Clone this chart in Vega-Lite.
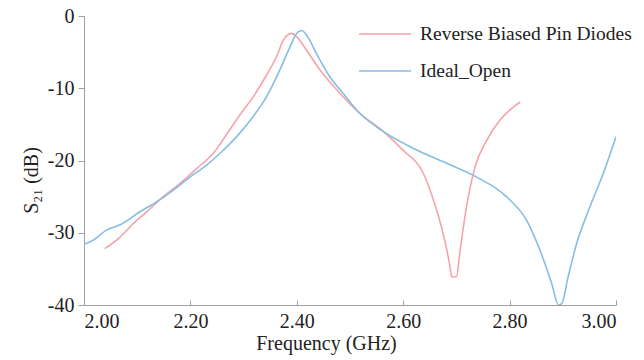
{
  "$schema": "https://vega.github.io/schema/vega-lite/v6.json",
  "width": 532,
  "height": 289,
  "autosize": {"type": "none"},
  "padding": {"left": 84, "top": 16, "right": 28, "bottom": 55},
  "background": "white",
  "config": {
    "view": {"stroke": null},
    "font": "Liberation Serif",
    "axis": {
      "grid": false,
      "domainColor": "#a0a0a0",
      "tickColor": "#a0a0a0",
      "labelFont": "Liberation Serif",
      "titleFont": "Liberation Serif",
      "labelColor": "#222222",
      "titleColor": "#222222",
      "labelFontSize": 20,
      "titleFontSize": 20,
      "titleFontWeight": "normal"
    },
    "legend": {
      "labelFont": "Liberation Serif",
      "labelFontSize": 19.5,
      "labelColor": "#222222",
      "labelLimit": 400
    }
  },
  "data": {
    "values": [
      {"series": "Reverse Biased Pin Diodes", "f": 2.039, "s21": -32.2},
      {"series": "Reverse Biased Pin Diodes", "f": 2.068, "s21": -30.6},
      {"series": "Reverse Biased Pin Diodes", "f": 2.093, "s21": -28.7},
      {"series": "Reverse Biased Pin Diodes", "f": 2.118, "s21": -27.1},
      {"series": "Reverse Biased Pin Diodes", "f": 2.149, "s21": -25.0},
      {"series": "Reverse Biased Pin Diodes", "f": 2.180, "s21": -23.2},
      {"series": "Reverse Biased Pin Diodes", "f": 2.212, "s21": -21.1},
      {"series": "Reverse Biased Pin Diodes", "f": 2.243, "s21": -19.0},
      {"series": "Reverse Biased Pin Diodes", "f": 2.268, "s21": -16.4},
      {"series": "Reverse Biased Pin Diodes", "f": 2.293, "s21": -13.7},
      {"series": "Reverse Biased Pin Diodes", "f": 2.318, "s21": -11.2},
      {"series": "Reverse Biased Pin Diodes", "f": 2.343, "s21": -8.2},
      {"series": "Reverse Biased Pin Diodes", "f": 2.362, "s21": -5.6},
      {"series": "Reverse Biased Pin Diodes", "f": 2.375, "s21": -3.3},
      {"series": "Reverse Biased Pin Diodes", "f": 2.390, "s21": -2.4},
      {"series": "Reverse Biased Pin Diodes", "f": 2.400, "s21": -2.9},
      {"series": "Reverse Biased Pin Diodes", "f": 2.418, "s21": -4.7},
      {"series": "Reverse Biased Pin Diodes", "f": 2.444, "s21": -7.5},
      {"series": "Reverse Biased Pin Diodes", "f": 2.475, "s21": -10.2},
      {"series": "Reverse Biased Pin Diodes", "f": 2.519, "s21": -13.5},
      {"series": "Reverse Biased Pin Diodes", "f": 2.563, "s21": -16.0},
      {"series": "Reverse Biased Pin Diodes", "f": 2.600, "s21": -18.6},
      {"series": "Reverse Biased Pin Diodes", "f": 2.638, "s21": -21.8},
      {"series": "Reverse Biased Pin Diodes", "f": 2.657, "s21": -25.5},
      {"series": "Reverse Biased Pin Diodes", "f": 2.675, "s21": -30.1},
      {"series": "Reverse Biased Pin Diodes", "f": 2.688, "s21": -34.7},
      {"series": "Reverse Biased Pin Diodes", "f": 2.691, "s21": -36.1},
      {"series": "Reverse Biased Pin Diodes", "f": 2.700, "s21": -36.1},
      {"series": "Reverse Biased Pin Diodes", "f": 2.707, "s21": -32.4},
      {"series": "Reverse Biased Pin Diodes", "f": 2.719, "s21": -26.4},
      {"series": "Reverse Biased Pin Diodes", "f": 2.735, "s21": -20.9},
      {"series": "Reverse Biased Pin Diodes", "f": 2.757, "s21": -17.2},
      {"series": "Reverse Biased Pin Diodes", "f": 2.782, "s21": -14.4},
      {"series": "Reverse Biased Pin Diodes", "f": 2.807, "s21": -12.6},
      {"series": "Reverse Biased Pin Diodes", "f": 2.820, "s21": -11.9},
      {"series": "Ideal_Open", "f": 2.000, "s21": -31.6},
      {"series": "Ideal_Open", "f": 2.018, "s21": -31.0},
      {"series": "Ideal_Open", "f": 2.043, "s21": -29.6},
      {"series": "Ideal_Open", "f": 2.068, "s21": -28.9},
      {"series": "Ideal_Open", "f": 2.105, "s21": -27.1},
      {"series": "Ideal_Open", "f": 2.137, "s21": -25.7},
      {"series": "Ideal_Open", "f": 2.168, "s21": -24.1},
      {"series": "Ideal_Open", "f": 2.199, "s21": -22.3},
      {"series": "Ideal_Open", "f": 2.231, "s21": -20.6},
      {"series": "Ideal_Open", "f": 2.256, "s21": -19.0},
      {"series": "Ideal_Open", "f": 2.287, "s21": -16.7},
      {"series": "Ideal_Open", "f": 2.318, "s21": -13.9},
      {"series": "Ideal_Open", "f": 2.343, "s21": -11.2},
      {"series": "Ideal_Open", "f": 2.368, "s21": -7.5},
      {"series": "Ideal_Open", "f": 2.387, "s21": -4.3},
      {"series": "Ideal_Open", "f": 2.400, "s21": -2.4},
      {"series": "Ideal_Open", "f": 2.409, "s21": -2.0},
      {"series": "Ideal_Open", "f": 2.418, "s21": -2.6},
      {"series": "Ideal_Open", "f": 2.437, "s21": -5.2},
      {"series": "Ideal_Open", "f": 2.462, "s21": -8.4},
      {"series": "Ideal_Open", "f": 2.487, "s21": -10.7},
      {"series": "Ideal_Open", "f": 2.519, "s21": -13.5},
      {"series": "Ideal_Open", "f": 2.563, "s21": -16.0},
      {"series": "Ideal_Open", "f": 2.613, "s21": -18.1},
      {"series": "Ideal_Open", "f": 2.688, "s21": -20.6},
      {"series": "Ideal_Open", "f": 2.738, "s21": -22.3},
      {"series": "Ideal_Open", "f": 2.794, "s21": -25.0},
      {"series": "Ideal_Open", "f": 2.832, "s21": -28.3},
      {"series": "Ideal_Open", "f": 2.857, "s21": -32.4},
      {"series": "Ideal_Open", "f": 2.879, "s21": -37.0},
      {"series": "Ideal_Open", "f": 2.892, "s21": -40.0},
      {"series": "Ideal_Open", "f": 2.898, "s21": -39.8},
      {"series": "Ideal_Open", "f": 2.910, "s21": -36.1},
      {"series": "Ideal_Open", "f": 2.926, "s21": -31.5},
      {"series": "Ideal_Open", "f": 2.951, "s21": -26.4},
      {"series": "Ideal_Open", "f": 2.976, "s21": -21.8},
      {"series": "Ideal_Open", "f": 3.000, "s21": -16.7}
    ]
  },
  "mark": {"type": "line", "strokeWidth": 1.6, "interpolate": "monotone", "clip": true},
  "encoding": {
    "x": {
      "field": "f",
      "type": "quantitative",
      "scale": {"domain": [2, 3], "nice": false, "zero": false},
      "axis": {
        "values": [2.0, 2.2, 2.4, 2.6, 2.8, 3.0],
        "format": ".2f",
        "tickSize": -5,
        "labelPadding": 11,
        "title": "Frequency (GHz)",
        "titleX": 242,
        "titlePadding": 2
      }
    },
    "y": {
      "field": "s21",
      "type": "quantitative",
      "scale": {"domain": [-40, 0], "nice": false, "zero": false},
      "axis": {
        "values": [-40, -30, -20, -10, 0],
        "labelExpr": "datum.value == 0 ? '0' : '-' + abs(datum.value)",
        "tickSize": 6,
        "labelPadding": 4,
        "title": "S₂₁ (dB)",
        "titleY": 164,
        "titlePadding": 6
      }
    },
    "color": {
      "field": "series",
      "type": "nominal",
      "scale": {
        "domain": ["Reverse Biased Pin Diodes", "Ideal_Open"],
        "range": ["#f6a3ab", "#86bde2"]
      },
      "legend": {
        "title": null,
        "orient": "none",
        "legendX": 274,
        "legendY": -9,
        "symbolType": "stroke",
        "symbolSize": 2704,
        "symbolStrokeWidth": 1.6,
        "rowPadding": -10,
        "labelOffset": 8
      }
    }
  }
}
